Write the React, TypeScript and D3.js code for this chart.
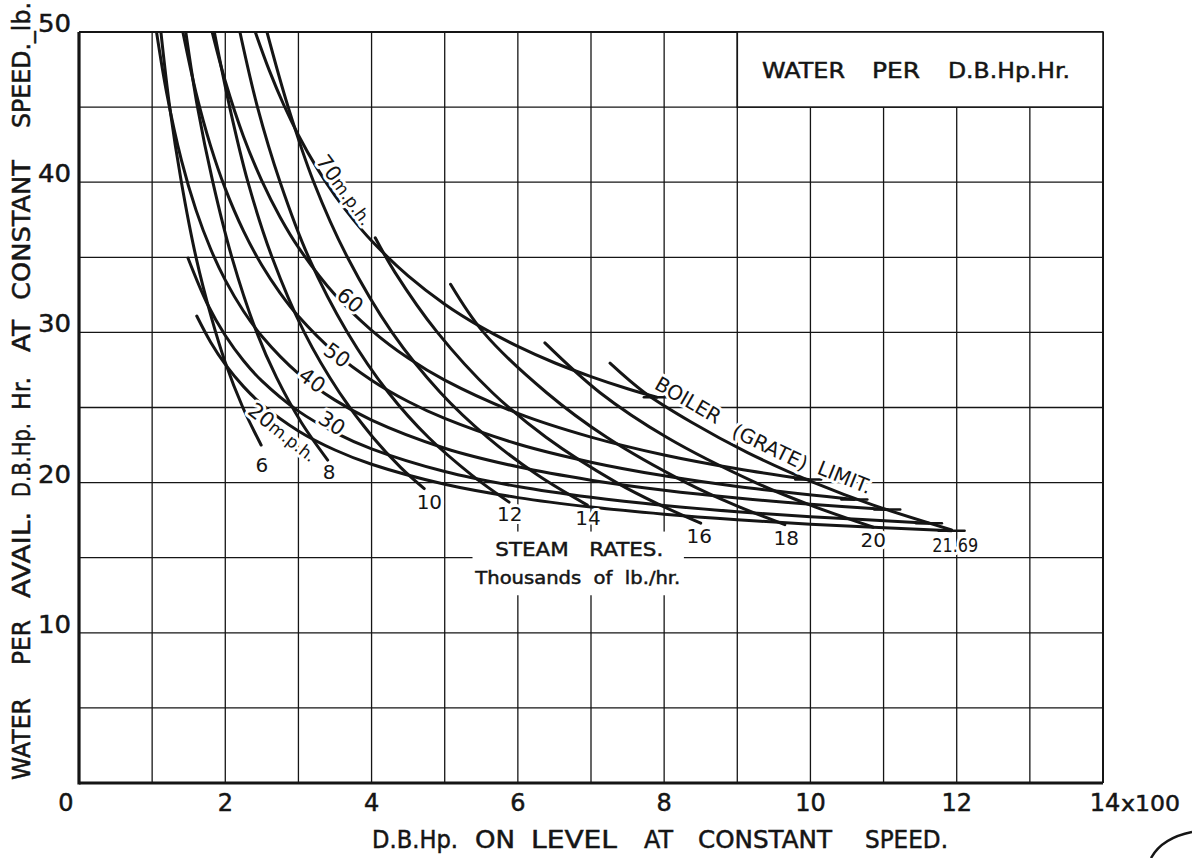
import React from 'react';
import * as d3 from 'd3';

const WIDTH = 1192;
const HEIGHT = 858;

// constant speed curves: [D.B.Hp. x100, water per D.B.Hp.Hr. lb.]
const speed70 = [[2.41, 50.0], [2.6, 47.46], [2.8, 45.14], [3.0, 43.13], [3.25, 40.97], [3.5, 39.11], [3.75, 37.51], [4.0, 36.1], [4.5, 33.76], [5.0, 31.88], [5.5, 30.35], [6.0, 29.07], [6.5, 27.98], [7.0, 27.06], [7.5, 26.25], [7.9, 25.68]];
const speed60 = [[1.82, 50.0], [2.0, 46.72], [2.25, 43.03], [2.5, 40.09], [2.75, 37.67], [3.0, 35.66], [3.5, 32.5], [4.0, 30.14], [4.5, 28.29], [5.0, 26.82], [6.0, 24.61], [7.0, 23.03], [8.0, 21.84], [9.0, 20.92], [9.97, 20.2]];
const speed50 = [[1.42, 50.0], [1.6, 45.95], [1.8, 42.4], [2.0, 39.57], [2.25, 36.74], [2.5, 34.47], [2.75, 32.62], [3.0, 31.07], [3.5, 28.64], [4.0, 26.82], [4.5, 25.4], [5.0, 24.27], [6.0, 22.57], [7.0, 21.36], [8.0, 20.45], [9.0, 19.74], [10.6, 18.88]];
const speed40 = [[1.06, 50.0], [1.2, 45.91], [1.4, 41.47], [1.6, 38.14], [1.8, 35.55], [2.0, 33.48], [2.25, 31.41], [2.5, 29.75], [3.0, 27.26], [3.5, 25.49], [4.0, 24.16], [5.0, 22.29], [6.0, 21.05], [7.0, 20.16], [8.0, 19.49], [9.0, 18.97], [10.0, 18.56], [11.05, 18.21]];
const speed30 = [[1.49, 34.95], [1.75, 31.94], [2.0, 29.79], [2.25, 28.11], [2.5, 26.77], [3.0, 24.76], [3.5, 23.33], [4.0, 22.25], [5.0, 20.74], [6.0, 19.74], [7.0, 19.02], [8.0, 18.48], [9.0, 18.06], [10.0, 17.73], [11.62, 17.3]];
const speed20 = [[1.61, 31.09], [1.8, 29.35], [2.0, 27.87], [2.25, 26.39], [2.5, 25.21], [3.0, 23.44], [3.5, 22.17], [4.0, 21.22], [5.0, 19.89], [6.0, 19.0], [7.0, 18.37], [8.0, 17.9], [9.0, 17.53], [10.0, 17.23], [11.93, 16.8]];

// steam rate curves, thousands of lb./hr.
const steam6 = [[1.12, 50], [1.24, 45], [1.4, 40], [1.6, 35], [1.81, 31], [2.0, 28], [2.24, 25], [2.49, 22.5]];
const steam8 = [[1.46, 50], [1.62, 45], [1.83, 40], [2.09, 35], [2.43, 30], [2.7, 27], [3.04, 24], [3.4, 21.5]];
const steam10 = [[1.85, 50], [2.06, 45], [2.31, 40], [2.64, 35], [3.08, 30], [3.56, 26], [4.02, 23], [4.4, 21], [4.72, 19.6]];
const steam12 = [[2.2, 50], [2.44, 45], [2.75, 40], [3.14, 35], [3.67, 30], [4.23, 26], [4.78, 23], [5.37, 20.5], [5.88, 18.7]];
const steam14 = [[2.57, 50], [2.86, 45], [3.21, 40], [3.67, 35], [4.28, 30], [4.94, 26], [5.59, 23], [6.27, 20.5], [6.95, 18.5]];
const steam16 = [[4.05, 36.3], [4.32, 34], [4.9, 30], [5.65, 26], [6.39, 23], [7.35, 20], [7.95, 18.5], [8.5, 17.3]];
const steam18 = [[5.08, 33.2], [5.53, 30], [6.39, 26], [7.22, 23], [8.3, 20], [8.97, 18.5], [9.65, 17.2]];
const steam20 = [[6.37, 29.3], [7.12, 26], [8.04, 23], [9.25, 20], [10.0, 18.5], [10.86, 17.03]];
const boilerLimit = [[7.26, 27.95], [7.73, 26], [8.38, 24], [9.14, 22], [10.05, 20], [10.86, 18.5], [11.93, 16.85]];

const speedCurves = [speed70, speed60, speed50, speed40, speed30, speed20];
const steamCurves = [steam6, steam8, steam10, steam12, steam14, steam16, steam18, steam20, boilerLimit];

const speedLabels = [
  { text: '70', unit: 'm.p.h.', x: 3.64, y: 39.5, angle: 54 },
  { text: '60', unit: '', x: 3.71, y: 32.16, angle: 40 },
  { text: '50', unit: '', x: 3.53, y: 28.5, angle: 36 },
  { text: '40', unit: '', x: 3.19, y: 26.83, angle: 36 },
  { text: '30', unit: '', x: 3.46, y: 23.97, angle: 33 },
  { text: '20', unit: 'm.p.h.', x: 2.79, y: 23.37, angle: 38 },
];

const steamLabels = [
  { text: '6', x: 2.5, y: 21.17 },
  { text: '8', x: 3.42, y: 20.71 },
  { text: '10', x: 4.79, y: 18.71 },
  { text: '12', x: 5.89, y: 17.91 },
  { text: '14', x: 6.96, y: 17.64 },
  { text: '16', x: 8.48, y: 16.44 },
  { text: '18', x: 9.67, y: 16.31 },
  { text: '20', x: 10.86, y: 16.18 },
  { text: '21.69', x: 11.98, y: 15.85 },
];

const boilerLabels = [
  { text: 'BOILER', x: 8.33, y: 25.5, angle: 30 },
  { text: '(GRATE)', x: 9.45, y: 22.37, angle: 26 },
  { text: 'LIMIT.', x: 10.47, y: 20.37, angle: 22 },
];

const xTickLabels = ['0', '2', '4', '6', '8', '10', '12'];
const xTickValues = [0, 2, 4, 6, 8, 10, 12];
const yTickValues = [10, 20, 30, 40, 50];

const title = 'WATER PER D.B.Hp.Hr.';
const xTitle = 'D.B.Hp. ON LEVEL AT CONSTANT SPEED.';
const yTitle = 'WATER PER AVAIL. D.B.Hp. Hr. AT CONSTANT SPEED._lb.';

// hand lettering: word start + width in px
const titleLayout = [[762, 83], [872, 48], [948, 122]];
const xTitleLayout = [[372, 86], [475, 40], [531, 86], [644, 29], [698, 134], [865, 83]];
const yTitleLayout = [[780, 82], [665, 45], [598, 86], [497, 74], [410, 33], [352, 32], [300, 140], [128, 126]];

const INK = '#151515';
const FONT = "'DejaVu Sans', sans-serif";

export default function App() {
  const x = d3.scaleLinear().domain([0, 14]).range([79, 1103]);
  const y = d3.scaleLinear().domain([0, 50]).range([783, 32]);

  const line = d3
    .line<number[]>()
    .x((d) => x(d[0]))
    .y((d) => y(d[1]))
    .curve(d3.curveCatmullRom.alpha(0.5));

  const halo = { stroke: '#fff', strokeWidth: 6, paintOrder: 'stroke' as const, strokeLinejoin: 'round' as const };
  // the scanned lettering is a little heavier than the font
  const ink = { fill: INK, stroke: INK, strokeWidth: 0.5 };

  return (
    <svg
      width={WIDTH}
      height={HEIGHT}
      style={{ position: 'absolute', left: 0, top: 0, background: '#fff' }}
      fontFamily={FONT}
    >
      <defs>
        <clipPath id="plot">
          <rect x={x(0)} y={y(50)} width={x(14) - x(0)} height={y(0) - y(50)} />
        </clipPath>
      </defs>

      {/* grid */}
      <g stroke={INK} strokeWidth={1.3}>
        {d3.range(1, 14).map((v) => (
          <line key={'v' + v} x1={x(v)} x2={x(v)} y1={y(0)} y2={y(50)} />
        ))}
        {d3.range(5, 50, 5).map((v) => (
          <line key={'h' + v} x1={x(0)} x2={x(14)} y1={y(v)} y2={y(v)} />
        ))}
      </g>
      <line x1={x(0)} x2={x(14)} y1={y(50)} y2={y(50)} stroke={INK} strokeWidth={2} />
      <line x1={x(14)} x2={x(14)} y1={y(0)} y2={y(50)} stroke={INK} strokeWidth={2} />

      {/* title box */}
      <rect x={x(9)} y={y(50)} width={x(14) - x(9)} height={y(45) - y(50)} fill="#fff" stroke={INK} strokeWidth={1.6} />
      {title.split(' ').map((w, i) => (
        <text key={w} x={titleLayout[i][0]} y={78} fontSize={21} {...ink} textLength={titleLayout[i][1]} lengthAdjust="spacingAndGlyphs">
          {w}
        </text>
      ))}

      {/* white patch behind steam rate note */}
      <rect x={x(5.38)} y={y(16.74)} width={x(8.27) - x(5.38)} height={y(12.5) - y(16.74)} fill="#fff" />

      {/* curves */}
      <g clipPath="url(#plot)" fill="none" stroke={INK} strokeWidth={3} strokeLinecap="round">
        {steamCurves.map((c, i) => (
          <path key={'s' + i} d={line(c) || ''} />
        ))}
        {speedCurves.map((c, i) => (
          <path key={'m' + i} d={line(c) || ''} />
        ))}
        {speedCurves.map((c, i) => {
          const end = c[c.length - 1];
          return <line key={'t' + i} x1={x(end[0]) - 13} x2={x(end[0]) + 13} y1={y(end[1])} y2={y(end[1])} strokeWidth={2.5} />;
        })}
      </g>

      {/* axes */}
      <line x1={x(0)} x2={x(0)} y1={y(0) + 1.5} y2={y(50)} stroke={INK} strokeWidth={3.2} />
      <line x1={x(0)} x2={x(14)} y1={y(0)} y2={y(0)} stroke={INK} strokeWidth={3.2} />

      {/* curve labels */}
      {speedLabels.map((l) => (
        <text
          key={'sl' + l.text}
          transform={`translate(${x(l.x)},${y(l.y)}) rotate(${l.angle})`}
          textAnchor="middle"
          dy="0.36em"
          fontSize={21}
          fill={INK}
          {...halo}
        >
          {l.text}
          {l.unit && <tspan fontSize={17}>{l.unit}</tspan>}
        </text>
      ))}
      {steamLabels.map((l) => (
        <text
          key={'st' + l.text}
          x={x(l.x)}
          y={y(l.y)}
          dy="0.36em"
          textAnchor="middle"
          fontSize={20}
          fill={INK}
          {...halo}
          textLength={l.text.length > 2 ? 46 : undefined}
          lengthAdjust="spacingAndGlyphs"
        >
          {l.text}
        </text>
      ))}
      {boilerLabels.map((l) => (
        <text
          key={l.text}
          transform={`translate(${x(l.x)},${y(l.y)}) rotate(${l.angle})`}
          textAnchor="middle"
          dy="0.36em"
          fontSize={20}
          fill={INK}
          {...halo}
        >
          {l.text}
        </text>
      ))}
      <text x={x(6.84)} y={y(15.58)} dy="0.36em" textAnchor="middle" fontSize={20} {...ink} textLength={168} lengthAdjust="spacingAndGlyphs">
        STEAM&#160;&#160;&#160;RATES.
      </text>
      <text x={x(6.82)} y={y(13.65)} dy="0.36em" textAnchor="middle" fontSize={18} {...ink} textLength={205} lengthAdjust="spacingAndGlyphs">
        Thousands&#160;&#160;of&#160;&#160;lb./hr.
      </text>

      {/* tick labels */}
      {xTickValues.map((v, i) => (
        <text key={'xt' + v} x={x(v) + (v === 0 ? -13 : 0)} y={811} textAnchor="middle" fontSize={24} {...ink}>
          {xTickLabels[i]}
        </text>
      ))}
      <text x={x(14) + 2} y={811} textAnchor="middle" fontSize={24} {...ink}>14</text>
      <text x={x(14) + 18} y={811} fontSize={22} {...ink} textLength={59} lengthAdjust="spacingAndGlyphs">x100</text>
      {yTickValues.map((v) => (
        <text key={'yt' + v} x={71} y={y(v)} textAnchor="end" fontSize={24} {...ink} textLength={33} lengthAdjust="spacingAndGlyphs">
          {v}
        </text>
      ))}

      {/* axis titles */}
      {xTitle.split(' ').map((w, i) => (
        <text key={'xw' + i} x={xTitleLayout[i][0]} y={848} fontSize={24} {...ink} textLength={xTitleLayout[i][1]} lengthAdjust="spacingAndGlyphs">
          {w}
        </text>
      ))}
      {yTitle.split(' ').map((w, i) => (
        <text
          key={'yw' + i}
          transform={`translate(30,${yTitleLayout[i][0]}) rotate(-90)`}
          fontSize={24}
          {...ink}
          textLength={yTitleLayout[i][1]}
          lengthAdjust="spacingAndGlyphs"
        >
          {w}
        </text>
      ))}

      {/* corner stamp mark */}
      <path d="M1151,858 Q1162,838 1192,832" fill="none" stroke={INK} strokeWidth={2.5} />
    </svg>
  );
}
